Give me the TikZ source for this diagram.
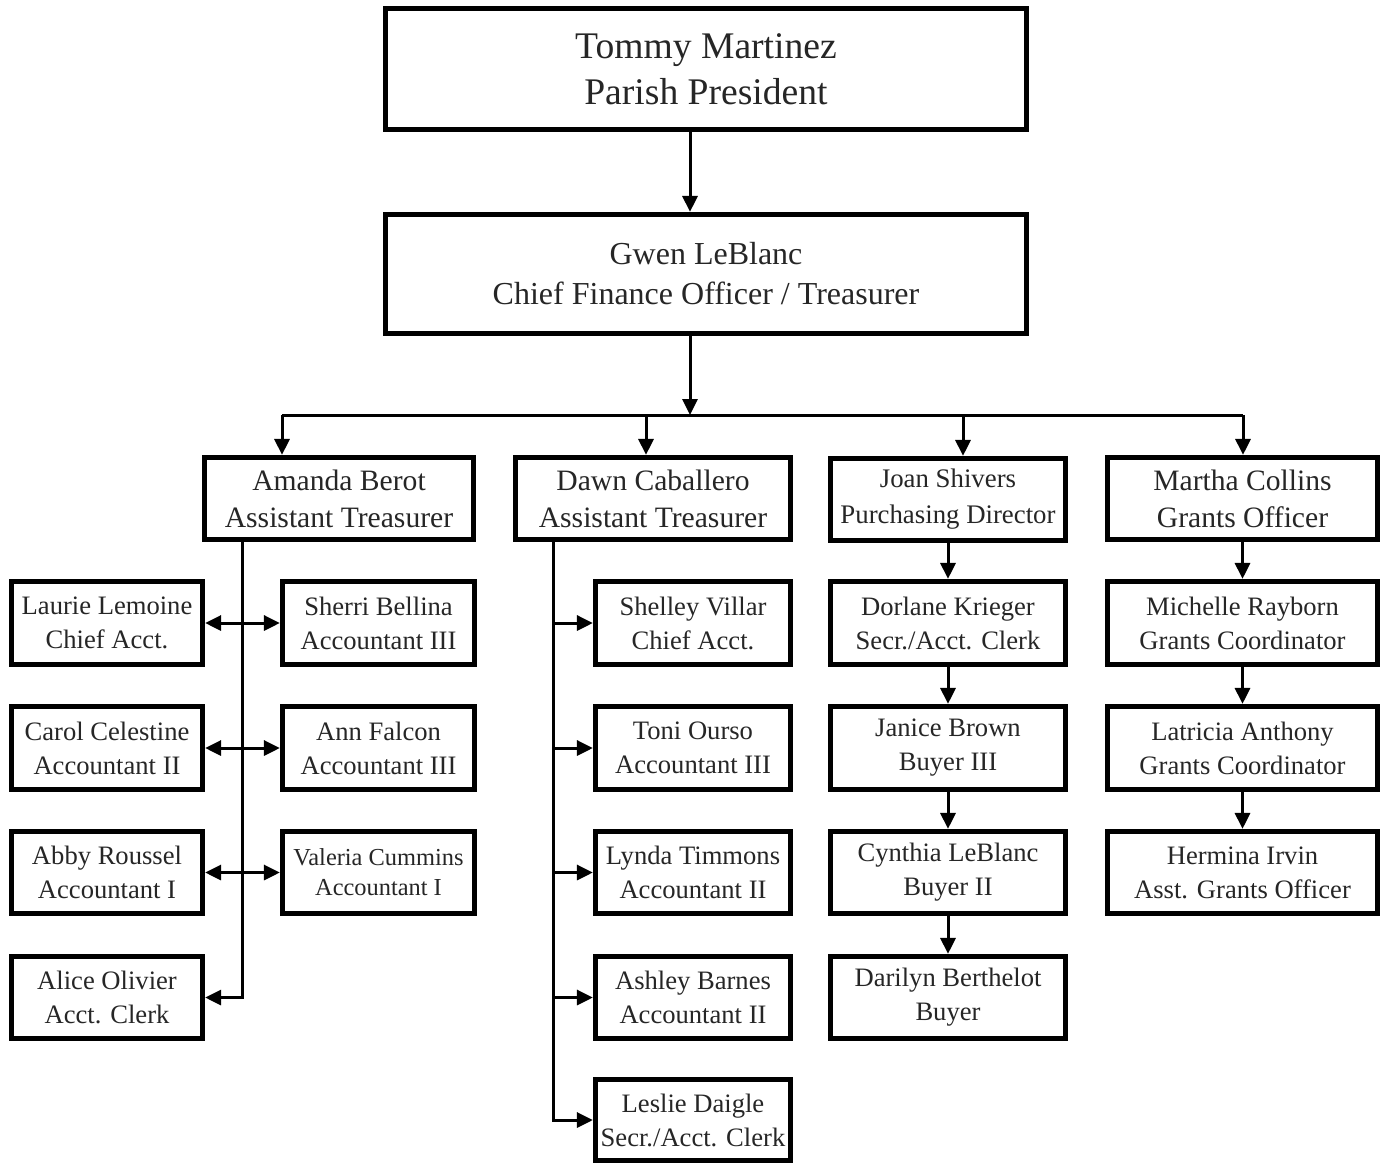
\documentclass[tikz,border=0pt]{standalone}
\usepackage{fontspec}
\setmainfont{Liberation Serif}
\usetikzlibrary{arrows.meta}
\tikzset{
  box/.style={draw=black, line width=2.6pt, fill=white, align=center, inner sep=0pt, text=black!85},
  sz/.style 2 args={minimum width=#1*0.5pt, minimum height=#2*0.5pt},
  conn/.style={draw=black, line width=1.5pt},
  arr/.style={conn, -{Triangle[length=8pt,width=7.5pt]}},
  darr/.style={conn, {Triangle[length=8pt,width=7.5pt]}-{Triangle[length=8pt,width=7.5pt]}},
  ftop/.style={font=\fontsize{18.8pt}{23pt}\selectfont},
  fcfo/.style={font=\fontsize{16pt}{20pt}\selectfont},
  fmid/.style={font=\fontsize{14.8pt}{18.5pt}\selectfont},
  fsub/.style={font=\fontsize{13.3pt}{17pt}\selectfont},
  fsm/.style={font=\fontsize{13.4pt}{18pt}\selectfont},
  fxs/.style={font=\fontsize{12.2pt}{15pt}\selectfont},
}
\begin{document}
\begin{tikzpicture}[x=0.5pt,y=-0.5pt]
\useasboundingbox (0,0) rectangle (1389,1164);
% top levels
\node[box,ftop,sz={641}{121}] (tommy) at (706,69) {Tommy Martinez\\Parish President};
\node[box,fcfo,sz={641}{119}] (gwen) at (706,274) {Gwen LeBlanc\\Chief Finance Officer / Treasurer};
% level 2
\node[box,fmid,sz={269}{82}] (amanda) at (339,498.5) {Amanda Berot\\Assistant Treasurer};
\node[box,fmid,sz={275}{82}] (dawn) at (653,498.5) {Dawn Caballero\\Assistant Treasurer};
\node[box,fsm,sz={235}{82}] (joan) at (948,499.5) {Joan Shivers\\Purchasing Director};
\node[box,fmid,sz={270}{82}] (martha) at (1242.5,498.5) {Martha Collins\\Grants Officer};
% Amanda's column
\node[box,fsub,sz={191}{83}] (lemoine) at (107,623) {Laurie Lemoine\\Chief Acct.};
\node[box,fsub,sz={191}{83}] (celestine) at (107,748) {Carol Celestine\\Accountant II};
\node[box,fsub,sz={191}{82}] (roussel) at (107,872.5) {Abby Roussel\\Accountant I};
\node[box,fsub,sz={191}{82}] (olivier) at (107,997.5) {Alice Olivier\\Acct. Clerk};
\node[box,fsub,sz={192}{83}] (bellina) at (378.5,623) {Sherri Bellina\\Accountant III};
\node[box,fsub,sz={192}{83}] (falcon) at (378.5,748) {Ann Falcon\\Accountant III};
\node[box,fxs,sz={192}{82}] (cummins) at (378.5,872.5) {Valeria Cummins\\Accountant I};
% Dawn's column
\node[box,fsub,sz={195}{83}] (villar) at (693,623) {Shelley Villar\\Chief Acct.};
\node[box,fsub,sz={195}{83}] (ourso) at (693,748) {Toni Ourso\\Accountant III};
\node[box,fsub,sz={195}{82}] (timmons) at (693,872.5) {Lynda Timmons\\Accountant II};
\node[box,fsub,sz={195}{82}] (barnes) at (693,997.5) {Ashley Barnes\\Accountant II};
\node[box,fsub,sz={195}{81}] (daigle) at (693,1120) {Leslie Daigle\\Secr./Acct. Clerk};
% Joan's column
\node[box,fsub,sz={235}{83}] (krieger) at (948,623) {Dorlane Krieger\\Secr./Acct. Clerk};
\node[box,fsub,sz={235}{83}] (brown) at (948,748) {Janice Brown\\Buyer III};
\node[box,fsub,sz={235}{82}] (cleblanc) at (948,872.5) {Cynthia LeBlanc\\Buyer II};
\node[box,fsub,sz={235}{82}] (berthelot) at (948,997.5) {Darilyn Berthelot\\Buyer};
% Martha's column
\node[box,fsub,sz={270}{83}] (rayborn) at (1242.5,623) {Michelle Rayborn\\Grants Coordinator};
\node[box,fsub,sz={270}{83}] (anthony) at (1242.5,748) {Latricia Anthony\\Grants Coordinator};
\node[box,fsub,sz={270}{82}] (irvin) at (1242.5,872.5) {Hermina Irvin\\Asst. Grants Officer};
% coordinates
\coordinate (tx) at (690,0);
\coordinate (busL) at (282,415);
\coordinate (busR) at (1243,415);
\coordinate (bd) at (646,415);
\coordinate (bj) at (963,415);
\coordinate (av) at (242,0);
\coordinate (dv) at (553,0);
% connectors
\draw[arr] (tx |- tommy.south) -- (tx |- gwen.north);
\draw[arr] (tx |- gwen.south) -- (tx |- busL);
\draw[conn] (busL) -- (busR);
\draw[arr] (busL) -- (busL |- amanda.north);
\draw[arr] (bd) -- (bd |- dawn.north);
\draw[arr] (bj) -- (bj |- joan.north);
\draw[arr] (busR) -- (busR |- martha.north);
% Amanda
\draw[arr] (av |- amanda.south) |- (olivier.east);
\draw[darr] (lemoine.east) -- (bellina.west);
\draw[darr] (celestine.east) -- (falcon.west);
\draw[darr] (roussel.east) -- (cummins.west);
% Dawn
\draw[arr] (dv |- dawn.south) |- (daigle.west);
\draw[arr] (dv |- villar.west) -- (villar.west);
\draw[arr] (dv |- ourso.west) -- (ourso.west);
\draw[arr] (dv |- timmons.west) -- (timmons.west);
\draw[arr] (dv |- barnes.west) -- (barnes.west);
% Joan
\draw[arr] (joan.south) -- (krieger.north);
\draw[arr] (krieger.south) -- (brown.north);
\draw[arr] (brown.south) -- (cleblanc.north);
\draw[arr] (cleblanc.south) -- (berthelot.north);
% Martha
\draw[arr] (martha.south) -- (rayborn.north);
\draw[arr] (rayborn.south) -- (anthony.north);
\draw[arr] (anthony.south) -- (irvin.north);
\end{tikzpicture}
\end{document}
